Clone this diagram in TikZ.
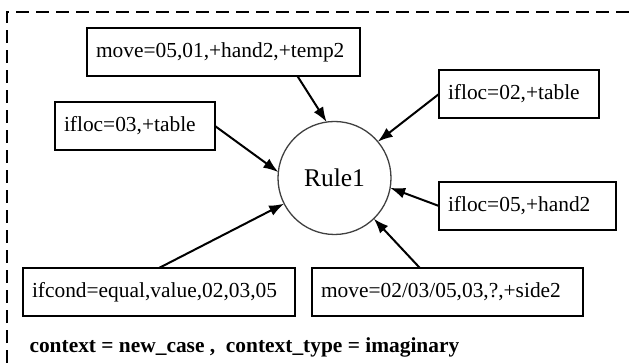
\documentclass[tikz,border=0pt]{standalone}
\usepackage{fontspec}
\setmainfont{Liberation Serif}
\usetikzlibrary{arrows.meta}
\tikzset{
    cond/.style={draw, line width=1.8pt, outer sep=0pt, inner xsep=9pt, minimum height=48pt,
        align=left, font=\fontsize{21.4}{25}\selectfont},
    rulenode/.style={circle, draw=black!75, line width=1.3pt, outer sep=0pt, minimum size=113pt,
        font=\fontsize{25.5}{30}\selectfont},
    arr/.style={-{Latex[length=15pt,width=11pt]}, line width=2pt},
}
\begin{document}
\begin{tikzpicture}[x=1pt,y=-1pt]
    \useasboundingbox (0,0) rectangle (629,363);
    \draw[line width=2pt, dash pattern=on 13pt off 7pt] (7,363) -- (7,12) -- (629,12);
    \node[rulenode] (rule) at (334.5,178) {Rule1};
    \node[cond, text width=255pt] (movetop) at (223.5,52) {move=05,01,+hand2,+temp2};
    \node[cond, text width=142pt] (ifloc03) at (135,126) {ifloc=03,+table};
    \node[cond, text width=142pt] (ifloc02) at (519,94) {ifloc=02,+table};
    \node[cond, text width=159pt] (ifloc05) at (527.5,206) {ifloc=05,+hand2};
    \node[cond, text width=254pt] (ifcond) at (159,292) {ifcond=equal,value,02,03,05};
    \node[cond, text width=253pt] (movebot) at (447.5,292) {move=02/03/05,03,?,+side2};
    \draw[arr] (movetop.-18.6) -- (rule.98);
    \draw[arr] (ifloc03.east) -- (rule.174);
    \draw[arr] (ifloc02.west) -- (rule.40);
    \draw[arr] (ifloc05.west) -- (rule.-10);
    \draw[arr] (ifcond.north) -- (rule.207);
    \draw[arr] (movebot.139) -- (rule.-46);
    \node[anchor=base west, font=\fontsize{21.4}{25}\selectfont\bfseries] (ctx) at (26,352)
        {context = new\_case ,\ \ context\_type = imaginary};
\end{tikzpicture}
\end{document}
